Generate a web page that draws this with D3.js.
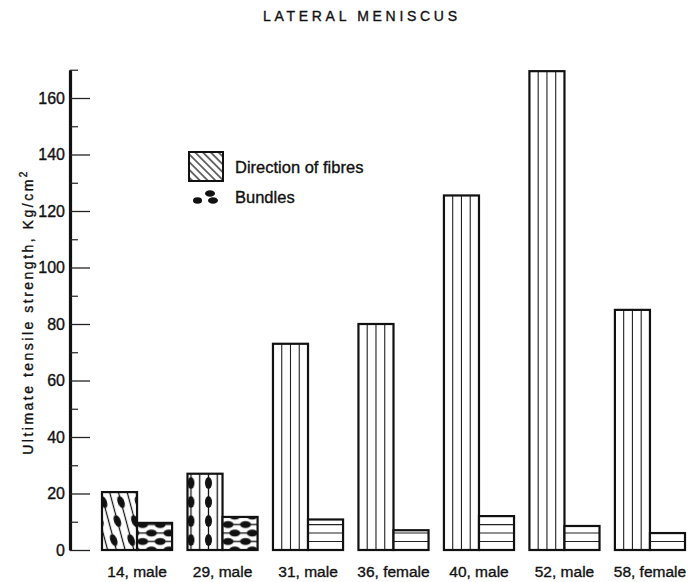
<!DOCTYPE html>
<html>
<head>
<meta charset="utf-8">
<script src="https://cdn.jsdelivr.net/npm/d3@7"></script>
<style>
  body { margin: 0; background: #fff; }
  text { font-family: "Liberation Sans", Arial, sans-serif; fill: #111; stroke: #111; stroke-width: 0.35px; }
</style>
</head>
<body>
<svg id="chart" width="688" height="582"></svg>
<script>
// data
var categories = ["14, male", "29, male", "31, male", "36, female", "40, male", "52, male", "58, female"];
var seriesNames = ["Direction of fibres", "Bundles"];
var fibres = [20.5, 27, 73, 80, 125.5, 169.5, 85];
var bundles = [9.6, 11.7, 10.8, 7, 12, 8.5, 6];
var yTicks = [0, 20, 40, 60, 80, 100, 120, 140, 160];
var yMinor = [10, 30, 50, 70, 90, 110, 130, 150, 170];
// which bars were drawn with the bundle dots
var dotted = [true, true, false, false, false, false, false];

var svg = d3.select("#chart");
var defs = svg.append("defs");

var y = d3.scaleLinear().domain([0, 170]).range([550, 69.75]);
var x0 = d3.scaleBand().domain(categories).range([102, 685]).paddingInner(0.18).paddingOuter(0);
var x1 = d3.scaleBand().domain(seriesNames).range([0, x0.bandwidth()]);
var bw = x1.bandwidth();
var rowH = y(0) - y(3);   // horizontal rules every 3 kg

var rows = [];
categories.forEach(function (c, i) {
  rows.push({cat: c, i: i, s: 0, v: fibres[i]});
  rows.push({cat: c, i: i, s: 1, v: bundles[i]});
});

// title
svg.append("text")
  .attr("x", 360).attr("y", 21)
  .attr("text-anchor", "middle")
  .attr("textLength", 194).attr("lengthAdjust", "spacing")
  .style("font-size", "14px")
  .text("LATERAL MENISCUS");

// patterns for the two dotted groups
function fibrePattern(id, bx, skew) {
  var p = defs.append("pattern").attr("id", id)
    .attr("patternUnits", "userSpaceOnUse")
    .attr("width", bw / 2).attr("height", 38)
    .attr("patternTransform", "translate(" + (bx - bw / 8) + "," + y(0) + ") skewX(" + skew + ")");
  p.append("rect").attr("width", bw / 2).attr("height", 38).attr("fill", "#fff");
  [bw / 8, 3 * bw / 8].forEach(function (lx) {
    p.append("line").attr("x1", lx).attr("x2", lx).attr("y1", 0).attr("y2", 38)
      .attr("stroke", "#111").attr("stroke-width", 1.3);
  });
  p.append("ellipse").attr("cx", 3 * bw / 8).attr("cy", 9).attr("rx", 3.5).attr("ry", 6).attr("fill", "#111");
  p.append("ellipse").attr("cx", skew ? bw / 8 : 3 * bw / 8).attr("cy", 28).attr("rx", 3.5).attr("ry", 6).attr("fill", "#111");
}
function bundlePattern(id, bx, shift) {
  var p = defs.append("pattern").attr("id", id)
    .attr("patternUnits", "userSpaceOnUse")
    .attr("width", bw / 2).attr("height", 2 * rowH)
    .attr("patternTransform", "translate(" + bx + "," + (y(0) + rowH / 2) + ")");
  p.append("rect").attr("width", bw / 2).attr("height", 2 * rowH).attr("fill", "#fff");
  [rowH / 2, 3 * rowH / 2].forEach(function (ly) {
    p.append("line").attr("x1", 0).attr("x2", bw / 2).attr("y1", ly).attr("y2", ly)
      .attr("stroke", "#111").attr("stroke-width", 1.3);
  });
  p.append("ellipse").attr("cx", bw / 4 + shift).attr("cy", rowH / 2).attr("rx", 5.5).attr("ry", 3.4).attr("fill", "#111");
  [0, bw / 2].forEach(function (ex) {
    p.append("ellipse").attr("cx", ex).attr("cy", 3 * rowH / 2).attr("rx", 5.5).attr("ry", 3.4).attr("fill", "#111");
  });
}

rows.forEach(function (d) {
  if (!dotted[d.i]) return;
  var bx = x0(d.cat) + x1(seriesNames[d.s]);
  d.pid = "pat" + d.i + "_" + d.s;
  if (d.s === 0) fibrePattern(d.pid, bx, d.i === 0 ? 15 : 0);
  else bundlePattern(d.pid, bx, d.i === 0 ? 0 : 2);
});

// legend hatching
defs.append("pattern").attr("id", "legendHatch")
  .attr("patternUnits", "userSpaceOnUse")
  .attr("width", 5.5).attr("height", 10)
  .attr("patternTransform", "rotate(-45)")
  .append("line").attr("x1", 2.75).attr("x2", 2.75).attr("y1", 0).attr("y2", 10)
  .attr("stroke", "#111").attr("stroke-width", 1.2);

// bars
var bars = svg.append("g");
var bar = bars.selectAll("g.bar").data(rows).join("g").attr("class", "bar")
  .attr("transform", function (d) { return "translate(" + (x0(d.cat) + x1(seriesNames[d.s])) + ",0)"; });

bar.append("rect")
  .attr("x", 0).attr("width", bw)
  .attr("y", function (d) { return y(d.v); })
  .attr("height", function (d) { return y(0) - y(d.v); })
  .attr("fill", function (d) { return d.pid ? "url(#" + d.pid + ")" : "#fff"; });

// plain fibre bars: three vertical rules
bar.filter(function (d) { return !d.pid && d.s === 0; })
  .selectAll("line.v").data(function (d) { return [1, 2, 3].map(function (k) { return {k: k, v: d.v}; }); })
  .join("line").attr("class", "v")
  .attr("x1", function (e) { return e.k * bw / 4; }).attr("x2", function (e) { return e.k * bw / 4; })
  .attr("y1", function (e) { return y(e.v); }).attr("y2", y(0))
  .attr("stroke", "#222").attr("stroke-width", 1.1);

// plain bundle bars: horizontal rules every 3 units
bar.filter(function (d) { return !d.pid && d.s === 1; })
  .selectAll("line.h").data(function (d) { return d3.range(3, d.v - 0.5, 3); })
  .join("line").attr("class", "h")
  .attr("x1", 0).attr("x2", bw)
  .attr("y1", function (v) { return y(v); }).attr("y2", function (v) { return y(v); })
  .attr("stroke", "#222").attr("stroke-width", 1.1);

bar.append("rect")
  .attr("x", 0).attr("width", bw)
  .attr("y", function (d) { return y(d.v); })
  .attr("height", function (d) { return y(0) - y(d.v); })
  .attr("fill", "none").attr("stroke", "#111").attr("stroke-width", 2.2);

// y axis
var yAxis = svg.append("g").attr("transform", "translate(70,0)")
  .call(d3.axisLeft(y).tickValues(yTicks).tickSizeInner(-20).tickSizeOuter(0).tickPadding(5));
yAxis.select(".domain").attr("stroke", "#111").attr("stroke-width", 3.2);
yAxis.selectAll(".tick line").attr("stroke", "#222").attr("stroke-width", 1.3);
yAxis.selectAll(".tick text").style("font-size", "16px").attr("fill", "#111")
  .style("font-family", "'Liberation Sans', Arial, sans-serif");

svg.append("g").attr("transform", "translate(70,0)")
  .call(d3.axisLeft(y).tickValues(yMinor).tickSizeInner(-8).tickSizeOuter(0).tickFormat(""))
  .call(function (g) { g.select(".domain").remove(); })
  .selectAll(".tick line").attr("stroke", "#222").attr("stroke-width", 1.2);

// y label
var yl = svg.append("text")
  .attr("transform", "translate(33,312) rotate(-90)")
  .attr("text-anchor", "middle")
  .style("font-size", "14px")
  .style("letter-spacing", "2.5px");
yl.append("tspan").text("Ultimate tensile strength, Kg/cm");
yl.append("tspan").attr("dy", -6).style("font-size", "10px").text("2");

// category labels
var xAxis = svg.append("g").attr("transform", "translate(0," + y(0) + ")")
  .call(d3.axisBottom(x0).tickSize(0).tickPadding(16));
xAxis.select(".domain").remove();
xAxis.selectAll(".tick text").style("font-size", "15.5px").attr("fill", "#111")
  .style("font-family", "'Liberation Sans', Arial, sans-serif");

// legend
var lg = svg.append("g");
lg.append("rect").attr("x", 189).attr("y", 152).attr("width", 34).attr("height", 29)
  .attr("fill", "url(#legendHatch)").attr("stroke", "#111").attr("stroke-width", 2);
lg.append("text").attr("x", 235).attr("y", 173).style("font-size", "16.5px").text(seriesNames[0]);
[[197.5, 200.5, 4.5], [210, 193.5, 5], [213, 200.5, 5]].forEach(function (e) {
  lg.append("ellipse").attr("cx", e[0]).attr("cy", e[1]).attr("rx", e[2]).attr("ry", 3.2).attr("fill", "#111");
});
lg.append("text").attr("x", 235).attr("y", 203).style("font-size", "16.5px").text(seriesNames[1]);
</script>
</body>
</html>
